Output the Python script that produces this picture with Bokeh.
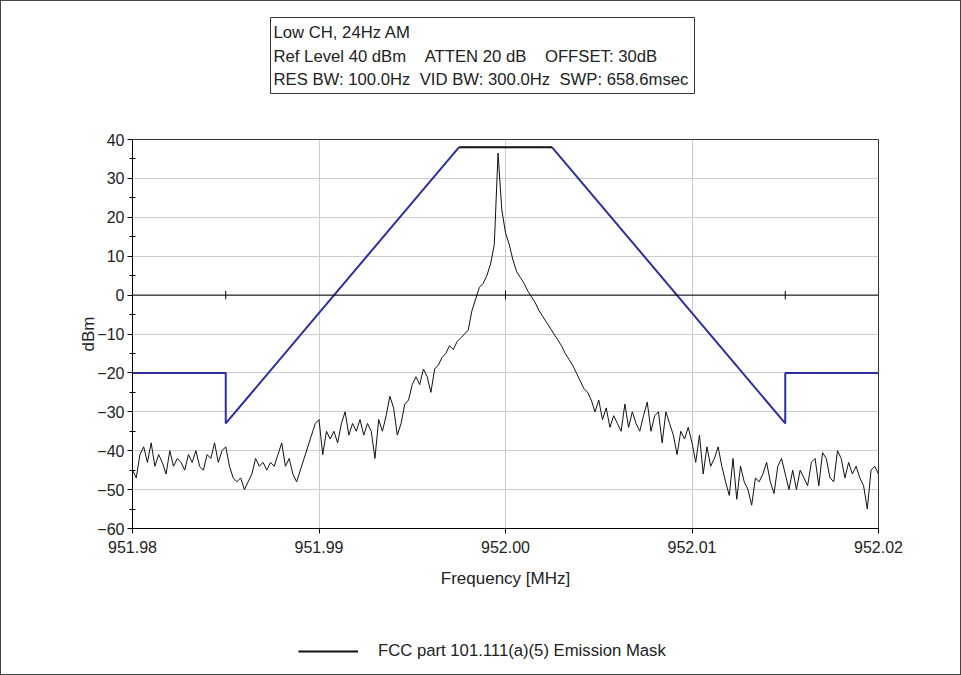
import numpy as np
from bokeh.plotting import figure
from bokeh.layouts import column
from bokeh.models import (Range1d, Legend, LegendItem, FixedTicker, Span,
                          NumeralTickFormatter)
from bokeh.core.properties import value
from bokeh.embed import file_html
from bokeh.resources import INLINE

# ---------------- data ----------------
freq_start, freq_stop = 951.98, 952.02

# measured spectrum (dBm), evenly spaced from 951.98 to 952.02 MHz
trace_dbm = [
    -45, -47, -41, -39, -43, -38, -44, -41, -43, -46,
    -40, -44, -42, -43, -45, -41, -43, -40, -44, -45,
    -41, -42, -38, -43, -40, -39, -44, -47, -48, -47,
    -50, -48, -46, -42, -44, -43, -45, -43, -44, -41,
    -38, -44, -42, -46, -48, -45, -42, -39, -36, -33,
    -32, -41, -35, -37, -35, -38, -33, -30, -36, -33,
    -35, -32, -36, -33, -35, -42, -32, -35, -31, -26,
    -29, -36, -33, -28, -27, -23, -21, -23, -19, -21,
    -25, -19, -18, -16, -15, -13, -14, -12, -11, -10,
    -9, -4, -1, 2, 3, 5, 8, 13, 36.5, 22,
    16, 13, 9, 6, 4.5, 3, 1, -0.5, -2, -4,
    -5.5, -7, -8.5, -10, -11.5, -13, -15, -16.5, -18, -20,
    -22, -24, -25, -27, -30, -27, -32, -29, -34, -31,
    -33, -35, -28, -34, -30, -33, -35, -31, -27.5, -35,
    -31, -30, -38, -30, -33, -36, -41, -35, -37, -34,
    -38, -43, -36, -46, -39, -44, -42, -39, -44, -48,
    -51.5, -42, -52.5, -44, -48, -50, -54, -47, -48, -46,
    -43, -48, -51, -44, -42, -46, -50, -45, -50, -45,
    -47, -49, -43, -42, -49, -40.5, -42, -47, -48, -40,
    -42, -47, -43, -46, -44, -47, -49, -55, -45, -44,
    -46,
]

# emission mask (FCC 101.111(a)(5))
mask_left_freq = [951.98, 951.985, 951.985, 951.9975]
mask_left_dbm = [-20, -20, -33, 38]
mask_top_freq = [951.9975, 952.0025]
mask_top_dbm = [38, 38]
mask_right_freq = [952.0025, 952.015, 952.015, 952.02]
mask_right_dbm = [38, -33, -20, -20]

zero_tick_freq = [951.985, 952.0, 952.015]

x_ticks = [951.98, 951.99, 952.00, 952.01, 952.02]
y_ticks = [-60, -50, -40, -30, -20, -10, 0, 10, 20, 30, 40]
y_minor = [-55, -45, -35, -25, -15, -5, 5, 15, 25, 35]

header_lines = [
    "Low CH, 24Hz AM",
    "Ref Level 40 dBm\u00a0\u00a0\u00a0\u00a0ATTEN 20 dB\u00a0\u00a0\u00a0\u00a0OFFSET: 30dB",
    "RES BW: 100.0Hz\u00a0\u00a0VID BW: 300.0Hz\u00a0\u00a0SWP: 658.6msec",
]
legend_label = "FCC part 101.111(a)(5) Emission Mask"

trace_freq = np.linspace(freq_start, freq_stop, len(trace_dbm))

# ---------------- style ----------------
FONT = "Liberation Sans"
TXT = "#222222"
MASK_BLUE = "#2e2ea0"
W = 959
H_HEAD, H_MAIN, H_FOOT = 110, 502, 61
FRAME_L, FRAME_R = 132, 878          # window pixel columns of the plot frame


def blank_panel(h, y_top):
    # the frame of these panels is aligned with the main frame by the column layout;
    # ranges are set so that one data unit equals one window pixel
    f = figure(width=W, height=h, output_backend="svg", toolbar_location=None,
               x_range=Range1d(FRAME_L, FRAME_R), y_range=Range1d(y_top + h, y_top),
               x_axis_type=None, y_axis_type=None, min_border=0,
               outline_line_color=None, background_fill_color="white",
               border_fill_color="white")
    return f


# ---------------- header ----------------
hdr = blank_panel(H_HEAD, 1)
hdr.quad(left=[270], right=[694], top=[17], bottom=[93], fill_alpha=0,
         line_color="#333333", line_width=1)
hdr.text(x=[273] * len(header_lines), y=[32, 56, 79], text=header_lines,
         text_font=value(FONT), text_font_size="16.7px", text_baseline="middle",
         text_align="left", text_color=TXT)

# ---------------- main plot ----------------
p = figure(width=W, height=H_MAIN, output_backend="svg", toolbar_location=None,
           x_range=Range1d(freq_start, freq_stop), y_range=Range1d(-60, 40),
           min_border_left=131, min_border_right=82, min_border_top=28,
           min_border_bottom=85, background_fill_color="white",
           border_fill_color="white")
p.outline_line_color = "#333333"
p.outline_line_width = 1

p.xaxis.ticker = FixedTicker(ticks=x_ticks)
p.xaxis.formatter = NumeralTickFormatter(format="0.00")
p.yaxis.ticker = FixedTicker(ticks=y_ticks, minor_ticks=y_minor)
for ax in (p.xaxis[0], p.yaxis[0]):
    ax.axis_line_color = "black"
    ax.major_tick_line_color = "black"
    ax.minor_tick_line_color = "black"
    ax.major_label_text_font = FONT
    ax.major_label_text_font_size = "16px"
    ax.major_label_text_color = TXT
    ax.axis_label_text_font = FONT
    ax.axis_label_text_font_size = "17px"
    ax.axis_label_text_font_style = "normal"
    ax.axis_label_text_color = TXT
p.yaxis.major_tick_out = 5
p.yaxis.major_tick_in = 0
p.yaxis.minor_tick_out = 3
p.yaxis.minor_tick_in = 3
p.xaxis.major_tick_out = 5
p.xaxis.major_tick_in = 0
p.xaxis.minor_tick_line_color = None
p.xaxis.axis_label = "Frequency [MHz]"
p.yaxis.axis_label = "dBm"
p.xaxis.major_label_standoff = 7
p.xaxis.axis_label_standoff = 13
p.yaxis.major_label_standoff = 3
p.yaxis.axis_label_standoff = -4

p.xgrid.ticker = FixedTicker(ticks=x_ticks)
p.ygrid.ticker = FixedTicker(ticks=y_ticks)
p.grid.grid_line_color = "#cccccc"
p.grid.grid_line_width = 1

# zero reference line with small ticks
p.add_layout(Span(location=0, dimension="width", line_color="black", line_width=1))
p.segment(x0=zero_tick_freq, x1=zero_tick_freq, y0=[-1.1] * 3, y1=[1.1] * 3,
          line_color="black", line_width=1)

# mask
p.line(mask_left_freq, mask_left_dbm, line_color=MASK_BLUE, line_width=2)
p.line(mask_right_freq, mask_right_dbm, line_color=MASK_BLUE, line_width=2)
p.line(mask_top_freq, mask_top_dbm, line_color="#111111", line_width=2)

# trace
p.line(trace_freq, trace_dbm, line_color="#111111", line_width=1)

# ---------------- footer with legend ----------------
ftr = blank_panel(H_FOOT, 1 + H_HEAD + H_MAIN)
# legend proxy line kept outside the visible range so only its legend swatch shows
proxy = ftr.line([0, 10], [0, 0], line_color="#111111", line_width=2)
legend = Legend(items=[LegendItem(label=legend_label, renderers=[proxy])],
                location=(298 - FRAME_L, 13), glyph_width=60, glyph_height=20,
                label_height=20, label_standoff=20, padding=0, margin=0,
                border_line_color=None, background_fill_alpha=0,
                label_text_font=FONT, label_text_font_size="16.7px",
                label_text_color=TXT)
ftr.add_layout(legend)

page = column(hdr, p, ftr, spacing=0,
              styles={"border": "1px solid #444444"})

open("out.html", "w").write(file_html(page, INLINE))
